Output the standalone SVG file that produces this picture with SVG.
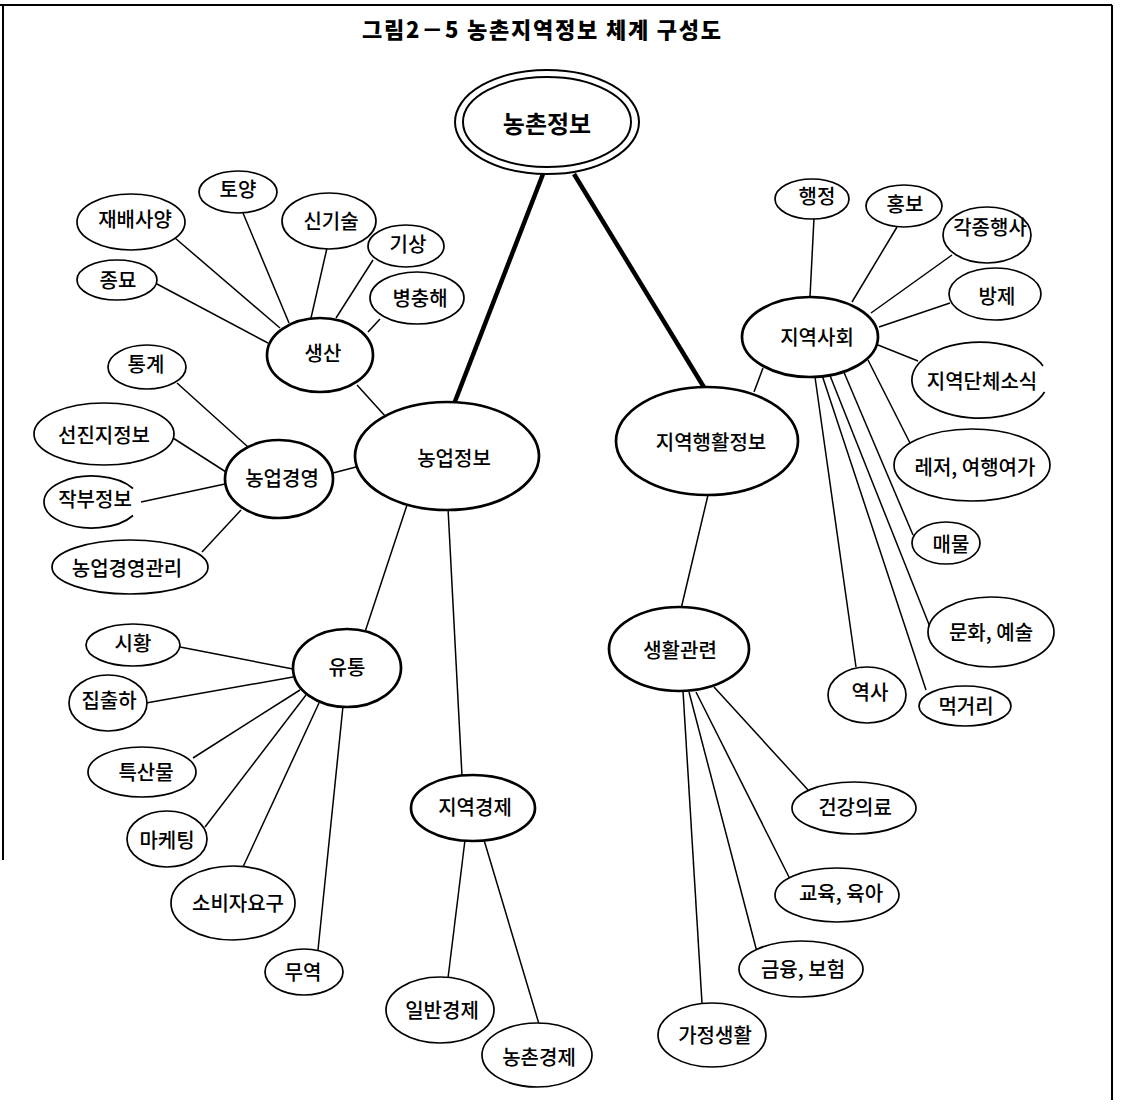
<svg xmlns="http://www.w3.org/2000/svg" width="1122" height="1106" viewBox="0 0 1122 1106">
<style>
.bg{fill:#fff}
.frame{stroke:#000;stroke-width:2;fill:none}
.title{font-family:"Noto Sans CJK KR","Noto Sans",sans-serif;font-size:22px;font-weight:900;fill:#000}
.root-t{font-family:"Noto Sans CJK KR","Noto Sans",sans-serif;font-size:24px;font-weight:bold;fill:#000}
.t{font-family:"Noto Sans CJK KR","Noto Sans",sans-serif;font-size:20px;font-weight:500;fill:#000;text-anchor:middle;dominant-baseline:central}
.leaf{fill:#fff;stroke:#000;stroke-width:1.7}
.hub{fill:#fff;stroke:#000;stroke-width:2.7}
.root{fill:#fff;stroke:#000;stroke-width:2}
.c{stroke:#000;stroke-width:1.5;fill:none}
.thick{stroke:#000;stroke-width:4.5;fill:none}
</style>
<rect class="bg" x="0" y="0" width="1122" height="1106"/>
<g id="frame">
<line class="frame" x1="0" y1="5" x2="1112" y2="5"/>
<line class="frame" x1="3" y1="5" x2="3" y2="860"/>
<line class="frame" x1="1112" y1="5" x2="1112" y2="1100"/>
</g>
<text id="title" class="title" x="362" y="38" textLength="359" lengthAdjust="spacing">그림2－5 농촌지역정보 체계 구성도</text>

<g id="connectors">
<line class="thick" x1="543" y1="174" x2="454" y2="404"/>
<line class="thick" x1="574" y1="174" x2="705" y2="389"/>
<line class="c" x1="175" y1="238" x2="280" y2="328"/>
<line class="c" x1="243" y1="213" x2="289" y2="323"/>
<line class="c" x1="157" y1="284" x2="268" y2="343"/>
<line class="c" x1="327" y1="248" x2="311" y2="318"/>
<line class="c" x1="373" y1="260" x2="336" y2="318"/>
<line class="c" x1="380" y1="319" x2="368" y2="332"/>
<line class="c" x1="357" y1="385" x2="386" y2="417"/>
<line class="c" x1="177" y1="383" x2="248" y2="447"/>
<line class="c" x1="173" y1="438" x2="226" y2="472"/>
<line class="c" x1="141" y1="502" x2="225" y2="484"/>
<line class="c" x1="202" y1="552" x2="241" y2="510"/>
<line class="c" x1="333" y1="473" x2="356" y2="467"/>
<line class="c" x1="407" y1="505" x2="365" y2="632"/>
<line class="c" x1="448" y1="508" x2="462" y2="776"/>
<line class="c" x1="180" y1="647" x2="293" y2="669"/>
<line class="c" x1="146" y1="703" x2="293" y2="677"/>
<line class="c" x1="193" y1="758" x2="300" y2="690"/>
<line class="c" x1="205" y1="827" x2="306" y2="695"/>
<line class="c" x1="243" y1="867" x2="319" y2="703"/>
<line class="c" x1="318" y1="950" x2="343" y2="706"/>
<line class="c" x1="465" y1="840" x2="448" y2="978"/>
<line class="c" x1="484" y1="840" x2="539" y2="1024"/>
<line class="c" x1="814" y1="218" x2="810" y2="297"/>
<line class="c" x1="897" y1="227" x2="852" y2="302"/>
<line class="c" x1="952" y1="255" x2="871" y2="313"/>
<line class="c" x1="950" y1="303" x2="879" y2="327"/>
<line class="c" x1="918" y1="361" x2="878" y2="345"/>
<line class="c" x1="911" y1="445" x2="868" y2="360"/>
<line class="c" x1="913" y1="535" x2="843" y2="370"/>
<line class="c" x1="930" y1="627" x2="829" y2="373"/>
<line class="c" x1="926" y1="690" x2="822" y2="375"/>
<line class="c" x1="856" y1="667" x2="815" y2="377"/>
<line class="c" x1="763" y1="368" x2="754" y2="392"/>
<line class="c" x1="708" y1="495" x2="681" y2="609"/>
<line class="c" x1="714" y1="687" x2="809" y2="791"/>
<line class="c" x1="696" y1="692" x2="790" y2="879"/>
<line class="c" x1="689" y1="692" x2="757" y2="952"/>
<line class="c" x1="683" y1="691" x2="702" y2="1003"/>
</g>

<g id="n-root"><ellipse class="root" cx="547" cy="122" rx="92" ry="52"/><ellipse class="root" cx="547" cy="122" rx="84" ry="45"/><text class="root-t" x="547" y="122" text-anchor="middle" dominant-baseline="central">농촌정보</text></g>

<g id="n-nongeop"><ellipse class="hub" cx="447" cy="456" rx="92" ry="54"/><text class="t" x="454" y="457">농업정보</text></g>
<g id="n-saenghwaljeongbo"><ellipse class="hub" cx="707" cy="441" rx="91" ry="54"/><text class="t" x="711" y="441">지역행활정보</text></g>

<g id="n-saengsan"><ellipse class="hub" cx="320" cy="355" rx="53" ry="37"/><text class="t" x="323" y="352">생산</text></g>
<g id="n-toyang"><ellipse class="leaf" cx="238" cy="192" rx="39" ry="21"/><text class="t" x="238" y="188">토양</text></g>
<g id="n-jaebae"><ellipse class="leaf" cx="131" cy="222" rx="54" ry="28"/><text class="t" x="135" y="218">재배사양</text></g>
<g id="n-singisul"><ellipse class="leaf" cx="329" cy="221" rx="47" ry="28"/><text class="t" x="331" y="220">신기술</text></g>
<g id="n-gisang"><ellipse class="leaf" cx="406" cy="246" rx="38" ry="21"/><text class="t" x="408" y="243">기상</text></g>
<g id="n-jongmyo"><ellipse class="leaf" cx="117" cy="280" rx="40" ry="20"/><text class="t" x="118" y="279">종묘</text></g>
<g id="n-byeong"><ellipse class="leaf" cx="417" cy="298" rx="47" ry="26"/><text class="t" x="420" y="297">병충해</text></g>

<g id="n-gyeongyeong"><ellipse class="hub" cx="279" cy="479" rx="54" ry="39"/><text class="t" x="282" y="477">농업경영</text></g>
<g id="n-tonggye"><ellipse class="leaf" cx="147" cy="367" rx="39" ry="22"/><text class="t" x="146" y="363">통계</text></g>
<g id="n-seonjin"><ellipse class="leaf" cx="104" cy="434" rx="70" ry="31"/><text class="t" x="104" y="434">선진지정보</text></g>
<g id="n-jakbu"><path class="leaf" d="M133,488.5 A48,26 0 1,0 133,515.5"/><text class="t" x="95" y="498">작부정보</text></g>
<g id="n-gwanri"><ellipse class="leaf" cx="130" cy="567" rx="78" ry="27"/><text class="t" x="127" y="567">농업경영관리</text></g>

<g id="n-yutong"><ellipse class="hub" cx="347" cy="668" rx="54" ry="39"/><text class="t" x="347" y="666">유통</text></g>
<g id="n-sihwang"><ellipse class="leaf" cx="133" cy="645" rx="47" ry="21"/><text class="t" x="133" y="642">시황</text></g>
<g id="n-jipchul"><ellipse class="leaf" cx="108" cy="703" rx="39" ry="28"/><text class="t" x="109" y="699">집출하</text></g>
<g id="n-teuksan"><ellipse class="leaf" cx="142" cy="772" rx="54" ry="25"/><text class="t" x="146" y="771">특산물</text></g>
<g id="n-marketing"><ellipse class="leaf" cx="167" cy="839" rx="40" ry="28"/><text class="t" x="167" y="839">마케팅</text></g>
<g id="n-sobija"><ellipse class="leaf" cx="233" cy="903" rx="62" ry="37"/><text class="t" x="238" y="902">소비자요구</text></g>
<g id="n-muyeok"><ellipse class="leaf" cx="304" cy="972" rx="39" ry="23"/><text class="t" x="303" y="971">무역</text></g>

<g id="n-jiyeokgyeongje"><ellipse class="hub" cx="473" cy="808" rx="62" ry="33"/><text class="t" x="475" y="806">지역경제</text></g>
<g id="n-ilban"><ellipse class="leaf" cx="440" cy="1010" rx="54" ry="33"/><text class="t" x="442" y="1009">일반경제</text></g>
<g id="n-nongchon"><ellipse class="leaf" cx="537" cy="1055" rx="55" ry="32"/><text class="t" x="539" y="1056">농촌경제</text></g>

<g id="n-jiyeoksahoe"><ellipse class="hub" cx="810" cy="337" rx="68" ry="40"/><text class="t" x="817" y="336">지역사회</text></g>
<g id="n-haengjeong"><ellipse class="leaf" cx="812" cy="199" rx="37" ry="20"/><text class="t" x="817" y="195">행정</text></g>
<g id="n-hongbo"><ellipse class="leaf" cx="904" cy="206" rx="38" ry="21"/><text class="t" x="905" y="203">홍보</text></g>
<g id="n-gakjong"><ellipse class="leaf" cx="987" cy="235" rx="44" ry="28"/><text class="t" x="990" y="226">각종행사</text></g>
<g id="n-bangje"><ellipse class="leaf" cx="995" cy="294" rx="46" ry="26"/><text class="t" x="997" y="295">방제</text></g>
<g id="n-danche"><path class="leaf" d="M1043,366 A68,38 0 1,0 1044.5,392"/><text class="t" x="982" y="380">지역단체소식</text></g>
<g id="n-leisure"><ellipse class="leaf" cx="972" cy="465" rx="78" ry="36"/><text class="t" x="975" y="466">레저, 여행여가</text></g>
<g id="n-maemul"><ellipse class="leaf" cx="946" cy="543" rx="34" ry="21"/><text class="t" x="951" y="543">매물</text></g>
<g id="n-munhwa"><ellipse class="leaf" cx="991" cy="632" rx="63" ry="35"/><text class="t" x="991" y="631">문화, 예술</text></g>
<g id="n-yeoksa"><ellipse class="leaf" cx="867" cy="695" rx="39" ry="28"/><text class="t" x="870" y="691">역사</text></g>
<g id="n-meokgeori"><ellipse class="leaf" cx="965" cy="706" rx="46" ry="20"/><text class="t" x="966" y="705">먹거리</text></g>

<g id="n-saenghwal"><ellipse class="hub" cx="679" cy="649" rx="70" ry="42"/><text class="t" x="680" y="649">생활관련</text></g>
<g id="n-geongang"><ellipse class="leaf" cx="854" cy="808" rx="62" ry="26"/><text class="t" x="855" y="806">건강의료</text></g>
<g id="n-gyoyuk"><ellipse class="leaf" cx="837" cy="895" rx="62" ry="27"/><text class="t" x="841" y="892">교육, 육아</text></g>
<g id="n-geumyung"><ellipse class="leaf" cx="801" cy="969" rx="62" ry="28"/><text class="t" x="803" y="968">금융, 보험</text></g>
<g id="n-gajeong"><ellipse class="leaf" cx="712" cy="1035" rx="54" ry="32"/><text class="t" x="715" y="1034">가정생활</text></g>
</svg>
